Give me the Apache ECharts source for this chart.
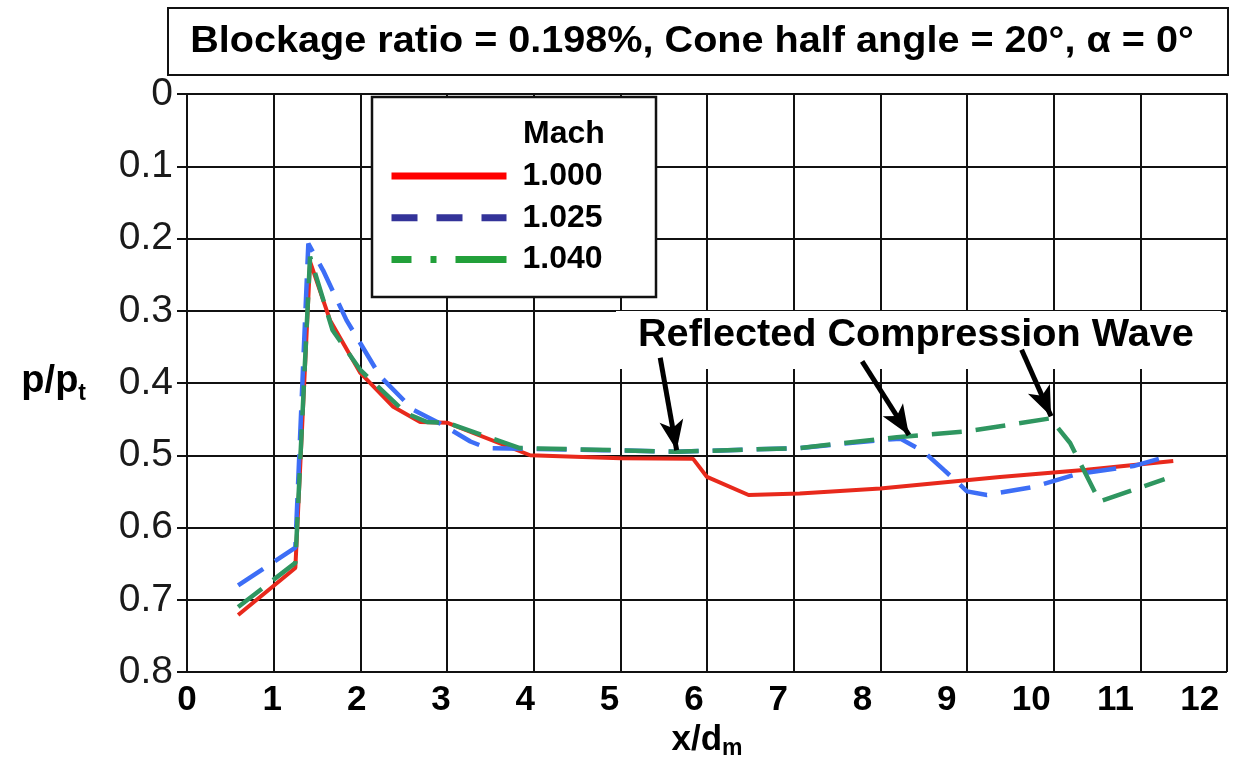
<!DOCTYPE html>
<html>
<head>
<meta charset="utf-8">
<script src="https://cdn.jsdelivr.net/npm/echarts@6/dist/echarts.min.js"></script>
<style>
html,body{margin:0;padding:0;background:#fff;}
#chart{width:1233px;height:759px;}
</style>
</head>
<body>
<div id="chart"></div>
<script>
// ---- data ----
var titleText = 'Blockage ratio = 0.198%, Cone half angle = 20°, α = 0°';
var legendTitle = 'Mach';
var seriesNames = ['1.000', '1.025', '1.040'];
var annotationText = 'Reflected Compression Wave';

var mach1000 = [[0.59,0.721],[1.25,0.656],[1.42,0.232],[1.65,0.313],[2.00,0.386],[2.38,0.433],[2.69,0.454],[3.00,0.455],[3.96,0.500],[5.00,0.504],[5.84,0.505],[6.00,0.530],[6.48,0.555],[7.07,0.553],[8.00,0.546],[9.38,0.530],[10.38,0.520],[11.38,0.508]];
var mach1025 = [[0.59,0.680],[1.25,0.628],[1.40,0.207],[1.57,0.244],[1.84,0.313],[2.23,0.391],[2.61,0.437],[2.92,0.456],[3.27,0.481],[3.46,0.490],[4.80,0.493],[5.65,0.495],[6.00,0.494],[7.07,0.490],[8.00,0.479],[8.23,0.477],[8.50,0.495],[8.73,0.520],[8.86,0.534],[9.00,0.550],[9.23,0.555],[9.76,0.544],[10.27,0.526],[10.92,0.515],[11.30,0.502]];
var mach1040 = [[0.59,0.710],[1.25,0.649],[1.42,0.225],[1.68,0.327],[2.00,0.382],[2.53,0.442],[2.77,0.454],[3.00,0.455],[3.84,0.490],[5.65,0.495],[6.00,0.494],[7.07,0.490],[8.19,0.475],[9.00,0.467],[9.96,0.449],[10.19,0.483],[10.53,0.564],[11.28,0.533]];

// arrows: [start, end] in data coordinates
var arrows = [
  [[5.46,0.365],[5.65,0.493]],
  [[7.79,0.370],[8.33,0.472]],
  [[9.63,0.354],[9.97,0.446]]
];

var FONT = "'Liberation Sans', Arial, Helvetica, sans-serif";

// x tick labels in the original drift slightly left of their grid lines
var xLabelRich = {};
for (var v = 0; v <= 12; v++) {
  var shift = Math.max(0, v * 2.35 - 1);
  xLabelRich['s' + v] = {fontFamily: FONT, fontWeight: 'bold', fontSize: 35, color: '#000', padding: [0, shift * 2, 0, 0]};
}

var chart = echarts.init(document.getElementById('chart'), null, {renderer:'canvas'});

var option = {
  animation: false,
  backgroundColor: '#ffffff',
  textStyle: {fontFamily: FONT},
  grid: {left: 187, right: 6, top: 94, bottom: 87, containLabel: false, outerBoundsMode: 'none'},
  xAxis: {
    type: 'value', min: 0, max: 12, interval: 1,
    name: '{a|x/d}{b|m}', nameLocation: 'middle', nameGap: 48,
    nameTextStyle: {
      rich: {
        a: {fontFamily: FONT, fontWeight: 'bold', fontSize: 35, color: '#000', lineHeight: 40},
        b: {fontFamily: FONT, fontWeight: 'bold', fontSize: 23, color: '#000', lineHeight: 14, verticalAlign: 'bottom'}
      }
    },
    axisLine: {show: true, lineStyle: {color: '#111', width: 2}},
    axisTick: {show: false},
    axisLabel: {fontFamily: FONT, fontWeight: 'bold', fontSize: 35, color: '#000', margin: 11,
      formatter: function (val) { return '{s' + Math.round(val) + '|' + val + '}'; },
      rich: xLabelRich},
    splitLine: {show: true, lineStyle: {color: '#111', width: 2}}
  },
  yAxis: {
    type: 'value', min: 0, max: 0.8, interval: 0.1, inverse: true,
    name: '{a|p/p}{b|t}', nameLocation: 'middle', nameRotate: 0, nameGap: 101,
    nameTextStyle: {
      padding: [0, 0, 2, 0],
      rich: {
        a: {fontFamily: FONT, fontWeight: 'bold', fontSize: 38, color: '#000', lineHeight: 46},
        b: {fontFamily: FONT, fontWeight: 'bold', fontSize: 23, color: '#000', lineHeight: 22, verticalAlign: 'bottom'}
      }
    },
    axisLine: {show: true, lineStyle: {color: '#111', width: 2}},
    axisTick: {show: true, inside: false, length: 10, lineStyle: {color: '#111', width: 2}},
    axisLabel: {fontFamily: FONT, fontSize: 39, color: '#1a1a1a', margin: 14,
      formatter: function (v) { return v === 0 ? '0' : v.toFixed(1); }},
    splitLine: {show: true, lineStyle: {color: '#111', width: 2}}
  },
  legend: {
    orient: 'vertical', left: 383, top: 151, z: 20,
    itemWidth: 115, itemHeight: 10, itemGap: 1.7,
    textStyle: {fontFamily: FONT, fontWeight: 'bold', fontSize: 32, color: '#000', lineHeight: 40, padding: [0,0,0,11]},
    data: [
      {name: seriesNames[0], itemStyle: {opacity: 0}, lineStyle: {color: '#ff0000', width: 7, type: 'solid'}},
      {name: seriesNames[1], itemStyle: {opacity: 0}, lineStyle: {color: '#333399', width: 7, type: [26, 19]}},
      {name: seriesNames[2], itemStyle: {opacity: 0}, lineStyle: {color: '#22a03a', width: 7, type: [51, 19, 6, 19], dashOffset: 31}}
    ],
    selectedMode: false
  },
  graphic: [
    {type: 'rect', z: 10, shape: {x: 168, y: 8, width: 1060, height: 67}, style: {fill: '#fff', stroke: '#111', lineWidth: 2}},
    {type: 'text', z: 11, x: 692, y: 42, scaleX: 1.1, style: {text: titleText, font: 'bold 36px ' + FONT, fill: '#000', textAlign: 'center', textVerticalAlign: 'middle'}},
    {type: 'rect', z: 10, shape: {x: 372, y: 97, width: 284, height: 200}, style: {fill: '#fff', stroke: '#111', lineWidth: 2.5}},
    {type: 'text', z: 11, x: 523, y: 134, style: {text: legendTitle, font: 'bold 32px ' + FONT, fill: '#000', textAlign: 'left', textVerticalAlign: 'middle'}},
    {type: 'rect', z: 1, shape: {x: 616, y: 311, width: 605, height: 58}, style: {fill: '#fff', stroke: null}},
    {type: 'text', z: 11, x: 638, y: 336, scaleX: 1.043, style: {text: annotationText, font: 'bold 38px ' + FONT, fill: '#000', textAlign: 'left', textVerticalAlign: 'middle'}}
  ],
  series: [
    {name: seriesNames[0], type: 'line', data: mach1000, symbol: 'none', z: 2,
      lineStyle: {color: '#e8291c', width: 4, type: 'solid'}, itemStyle: {color: '#e8291c'}},
    {name: seriesNames[1], type: 'line', data: mach1025, symbol: 'none', z: 3,
      lineStyle: {color: '#3d6ef6', width: 4.5, type: [30, 14]}, itemStyle: {color: '#3d6ef6'}},
    {name: seriesNames[2], type: 'line', data: mach1040, symbol: 'none', z: 4,
      lineStyle: {color: '#2f9660', width: 4.5, type: [30, 14]}, itemStyle: {color: '#2f9660'},
      markLine: {
        silent: true, animation: false,
        symbol: ['none', 'arrow'], symbolSize: [18, 30],
        label: {show: false},
        lineStyle: {color: '#000', width: 5, type: 'solid'},
        emphasis: {disabled: true},
        data: arrows.map(function (a) { return [{coord: a[0]}, {coord: a[1]}]; })
      }}
  ]
};
chart.setOption(option);
</script>
</body>
</html>
